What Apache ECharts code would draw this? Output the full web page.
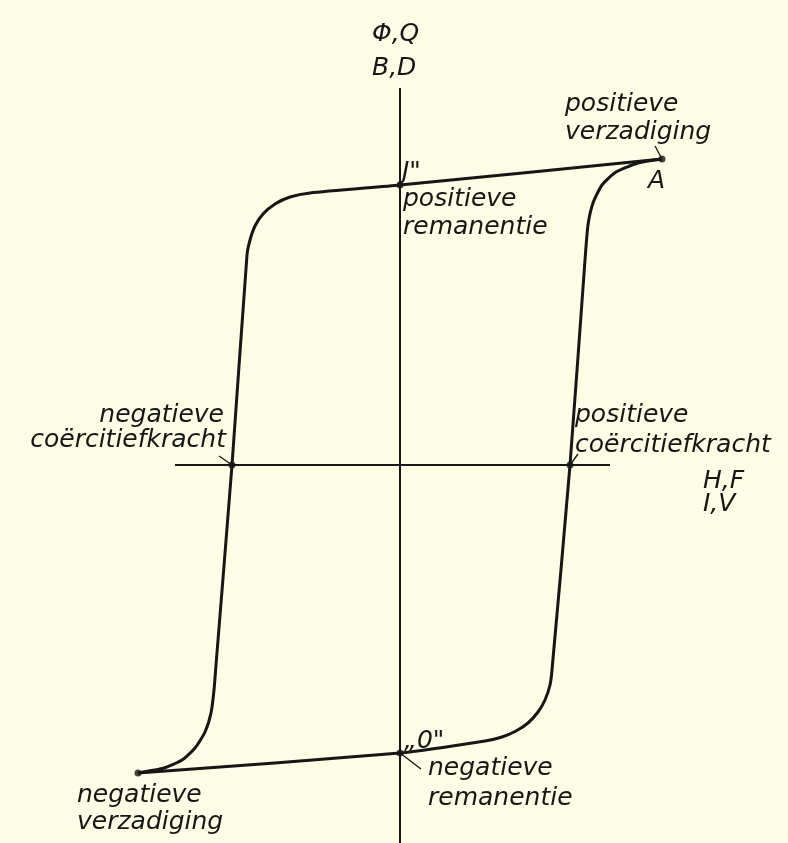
<!DOCTYPE html>
<html>
<head>
<meta charset="utf-8">
<script src="https://cdn.jsdelivr.net/npm/echarts@6/dist/echarts.min.js"></script>
<style>
html,body{margin:0;padding:0;background:#fdfde6;}
#main{width:788px;height:843px;}
</style>
</head>
<body>
<div id="main"></div>
<script>
/* bovenste tak: van A (positieve verzadiging) naar negatieve verzadiging */
var upperH = [2.62, 0, -0.90, -1.10, -1.25, -1.37, -1.45, -1.50, -1.53, -1.68, -1.84, -1.86, -1.89, -1.95, -2.05, -2.18, -2.36, -2.62];
var upperB = [3.06, 2.80, 2.72, 2.68, 2.61, 2.51, 2.39, 2.25, 2.10, 0, -2.00, -2.25, -2.48, -2.67, -2.83, -2.95, -3.03, -3.08];
/* onderste tak: van negatieve verzadiging terug naar A */
var lowerH = [-2.62, 0, 0.85, 1.02, 1.16, 1.28, 1.38, 1.45, 1.50, 1.52, 1.70, 1.85, 1.88, 1.93, 2.02, 2.16, 2.38, 2.62];
var lowerB = [-3.08, -2.88, -2.76, -2.72, -2.66, -2.58, -2.47, -2.35, -2.20, -2.05, 0, 2.05, 2.40, 2.62, 2.80, 2.93, 3.02, 3.06];
/* markante punten */
var pointH = [2.62, 0, 1.70, -1.68, 0, -2.62];
var pointB = [3.06, 2.80, 0, 0, -2.88, -3.08];
/* assen */
var hAxisRange = [-2.25, 2.10];
var vAxisRange = [-3.78, 3.77];
/* verwijslijntjes van tekst naar punt */
var leaders = [
    [[2.55, 3.19], [2.62, 3.06]],
    [[-1.81, 0.09], [-1.68, 0]],
    [[1.78, 0.11], [1.70, 0]],
    [[0, -2.88], [0.21, -3.04]]
];

!function(){
    var myChart = echarts.init(document.getElementById('main'));
    var ink = '#161614';
    var font = 'italic 25px "DejaVu Sans"';

    function zip(a, b){
        var out = [];
        for (var i = 0; i < a.length; i++) out.push([a[i], b[i]]);
        return out;
    }
    function txt(s, x, y, align){
        return {type:'text', style:{text:s, x:x, y:y, font:font, fill:ink, textAlign:align || 'left', textVerticalAlign:'middle'}};
    }

    var axisLines = [
        {coords:[[hAxisRange[0], 0], [hAxisRange[1], 0]]},
        {coords:[[0, vAxisRange[0]], [0, vAxisRange[1]]]}
    ];
    var leaderLines = leaders.map(function(s){ return {coords:s}; });

    var option = {
        backgroundColor: '#fdfde6',
        animation: false,
        grid: {left:0, right:0, top:0, bottom:0},
        xAxis: {type:'value', min:-4, max:3.88, show:false},
        yAxis: {type:'value', min:-3.78, max:4.65, show:false},
        series: [
            {
                type:'lines', coordinateSystem:'cartesian2d', silent:true,
                lineStyle:{color:ink, width:2, opacity:1},
                data:axisLines
            },
            {
                type:'lines', coordinateSystem:'cartesian2d', silent:true,
                lineStyle:{color:ink, width:1.3, opacity:1},
                data:leaderLines
            },
            {
                type:'line', data:zip(upperH, upperB), smooth:0.2, symbol:'none',
                lineStyle:{color:ink, width:3}
            },
            {
                type:'line', data:zip(lowerH, lowerB), smooth:0.2, symbol:'none',
                lineStyle:{color:ink, width:3}
            },
            {
                type:'scatter', data:zip(pointH, pointB), symbolSize:7,
                itemStyle:{color:ink}
            }
        ],
        graphic: [
            txt('\u03A6,Q', 372, 34),
            txt('B,D', 372, 68),
            txt('positieve', 565, 104),
            txt('verzadiging', 565, 132),
            txt('A', 648, 181),
            txt('J"', 402, 172),
            txt('positieve', 403, 199),
            txt('remanentie', 403, 227),
            txt('negatieve', 224, 415, 'right'),
            txt('co\u00EBrcitiefkracht', 226, 440, 'right'),
            txt('positieve', 575, 415),
            txt('co\u00EBrcitiefkracht', 575, 445),
            txt('H,F', 703, 481),
            txt('I,V', 703, 504),
            txt('\u201E0"', 404, 741),
            txt('negatieve', 428, 768),
            txt('remanentie', 428, 798),
            txt('negatieve', 77, 795),
            txt('verzadiging', 77, 822)
        ]
    };
    myChart.setOption(option);
}();
</script>
</body>
</html>
